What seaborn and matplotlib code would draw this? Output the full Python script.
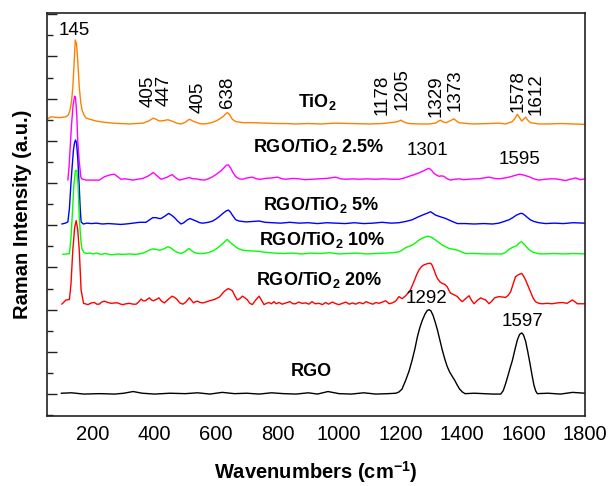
import matplotlib
matplotlib.use("Agg")
import matplotlib.pyplot as plt
from matplotlib.ticker import MultipleLocator, NullFormatter
import seaborn as sns
import pandas as pd

# ---- Raman spectra (offset-stacked, arbitrary units) ----
tio2_w = [50, 63, 75, 90, 100, 112, 120, 125, 130, 134, 138, 142, 146, 150, 155, 160, 164, 170, 177, 190,
          210, 235, 264, 290, 318, 340, 362, 378, 390, 396, 405, 416, 430, 443, 452, 459, 472, 486, 500, 508,
          515, 524, 535, 546, 557, 572, 589, 605, 622, 630, 637, 644, 653, 661, 669, 690, 718, 760, 800, 827,
          860, 900, 940, 989, 1040, 1098, 1140, 1179, 1192, 1201, 1208, 1217, 1228, 1260, 1293, 1314, 1322,
          1330, 1338, 1347, 1360, 1374, 1382, 1390, 1433, 1488, 1520, 1542, 1564, 1572, 1580, 1587, 1594,
          1600, 1607, 1615, 1623, 1650, 1683, 1720, 1760, 1800]
tio2_i = [6.51, 6.57, 6.56, 6.55, 6.56, 6.57, 6.62, 6.73, 6.95, 7.27, 7.80, 8.39, 8.30, 7.91, 7.27, 6.90, 6.73,
          6.62, 6.54, 6.51, 6.47, 6.44, 6.42, 6.41, 6.40, 6.41, 6.42, 6.46, 6.51, 6.54, 6.51, 6.47, 6.48, 6.50,
          6.48, 6.46, 6.42, 6.40, 6.44, 6.49, 6.51, 6.47, 6.44, 6.41, 6.40, 6.41, 6.44, 6.49, 6.57, 6.63, 6.67,
          6.62, 6.51, 6.47, 6.45, 6.43, 6.43, 6.42, 6.41, 6.41, 6.40, 6.41, 6.40, 6.42, 6.41, 6.40, 6.41, 6.44,
          6.46, 6.49, 6.46, 6.43, 6.41, 6.40, 6.40, 6.42, 6.46, 6.49, 6.45, 6.43, 6.47, 6.52, 6.47, 6.43, 6.40,
          6.41, 6.42, 6.40, 6.46, 6.53, 6.63, 6.55, 6.47, 6.51, 6.56, 6.48, 6.43, 6.40, 6.40, 6.41, 6.40, 6.39]

rgo25_w = [118, 122, 125, 130, 135, 140, 143, 147, 150, 155, 160, 163, 177, 200, 220, 237, 253, 269, 280, 291,
           302, 313, 329, 345, 362, 380, 396, 408, 421, 438, 457, 468, 481, 497, 513, 525, 535, 548, 562, 575,
           589, 603, 616, 627, 633, 640, 647, 655, 664, 675, 686, 700, 718, 732, 745, 760, 780, 800, 815, 827,
           850, 870, 890, 913, 935, 960, 989, 1005, 1022, 1045, 1065, 1090, 1119, 1145, 1173, 1195, 1212, 1228,
           1245, 1260, 1275, 1286, 1293, 1301, 1309, 1317, 1325, 1333, 1341, 1352, 1363, 1376, 1390, 1405, 1423,
           1440, 1455, 1470, 1488, 1505, 1520, 1540, 1558, 1572, 1587, 1600, 1618, 1634, 1650, 1670, 1690, 1704,
           1720, 1737, 1752, 1770, 1785, 1800]
rgo25_i = [5.07, 5.40, 5.78, 6.40, 6.85, 7.06, 7.02, 6.60, 6.00, 5.50, 5.15, 5.10, 5.07, 5.07, 5.07, 5.15, 5.19,
           5.21, 5.15, 5.09, 5.10, 5.09, 5.07, 5.09, 5.11, 5.17, 5.25, 5.17, 5.09, 5.13, 5.20, 5.13, 5.07, 5.10,
           5.13, 5.10, 5.10, 5.08, 5.07, 5.10, 5.15, 5.22, 5.29, 5.37, 5.42, 5.43, 5.36, 5.25, 5.15, 5.10, 5.09,
           5.12, 5.14, 5.10, 5.09, 5.11, 5.12, 5.14, 5.10, 5.09, 5.11, 5.10, 5.08, 5.09, 5.10, 5.11, 5.14, 5.10,
           5.09, 5.10, 5.09, 5.10, 5.09, 5.10, 5.09, 5.09, 5.12, 5.16, 5.20, 5.24, 5.29, 5.33, 5.35, 5.30, 5.23,
           5.19, 5.16, 5.17, 5.16, 5.10, 5.07, 5.09, 5.10, 5.08, 5.09, 5.10, 5.10, 5.12, 5.14, 5.11, 5.10, 5.12,
           5.15, 5.18, 5.21, 5.19, 5.15, 5.10, 5.07, 5.09, 5.10, 5.10, 5.08, 5.06, 5.09, 5.12, 5.08, 5.10]

rgo5_w = [98, 110, 118, 123, 128, 132, 136, 140, 143, 146, 150, 155, 158, 161, 168, 180, 195, 210, 230, 250, 270,
          290, 307, 330, 351, 372, 384, 394, 405, 415, 421, 432, 446, 455, 465, 475, 486, 495, 505, 515, 525, 535,
          547, 557, 575, 589, 600, 611, 622, 633, 640, 647, 653, 664, 675, 697, 720, 740, 760, 784, 810, 840, 870,
          900, 930, 960, 990, 1020, 1050, 1080, 1110, 1140, 1170, 1195, 1217, 1238, 1255, 1271, 1285, 1298, 1306,
          1314, 1330, 1347, 1365, 1385, 1410, 1440, 1470, 1500, 1520, 1537, 1553, 1565, 1577, 1590, 1596, 1604,
          1612, 1622, 1634, 1650, 1672, 1700, 1730, 1760, 1800]
rgo5_i = [4.03, 4.05, 4.08, 4.40, 5.00, 5.40, 5.78, 5.97, 6.02, 5.95, 5.60, 4.90, 4.40, 4.08, 4.03, 4.05, 4.04,
          4.05, 4.03, 4.04, 4.03, 4.02, 4.03, 4.05, 4.07, 4.07, 4.13, 4.18, 4.18, 4.16, 4.16, 4.21, 4.28, 4.24,
          4.18, 4.10, 4.03, 4.06, 4.12, 4.16, 4.13, 4.10, 4.06, 4.05, 4.07, 4.10, 4.15, 4.21, 4.28, 4.34, 4.36,
          4.31, 4.24, 4.13, 4.10, 4.08, 4.09, 4.10, 4.07, 4.06, 4.05, 4.07, 4.05, 4.06, 4.04, 4.06, 4.05, 4.04,
          4.06, 4.04, 4.05, 4.07, 4.05, 4.06, 4.09, 4.13, 4.19, 4.24, 4.28, 4.32, 4.28, 4.24, 4.20, 4.16, 4.10,
          4.04, 4.04, 4.03, 4.04, 4.03, 4.05, 4.09, 4.13, 4.18, 4.24, 4.28, 4.28, 4.24, 4.19, 4.13, 4.09, 4.06,
          4.04, 4.05, 4.04, 4.06, 4.05]

rgo10_w = [101, 115, 123, 128, 132, 137, 142, 147, 151, 155, 159, 163, 170, 177, 190, 200, 210, 225, 240, 252,
           264, 280, 295, 318, 335, 350, 362, 372, 382, 394, 405, 416, 430, 443, 451, 459, 470, 486, 500, 508, 513,
           520, 530, 545, 557, 575, 589, 603, 616, 625, 633, 637, 645, 653, 659, 667, 675, 686, 697, 720, 740, 760,
           790, 820, 850, 880, 910, 940, 970, 1000, 1030, 1060, 1090, 1120, 1150, 1175, 1195, 1205, 1217, 1228,
           1238, 1250, 1260, 1270, 1280, 1290, 1300, 1314, 1325, 1336, 1347, 1358, 1372, 1385, 1398, 1412, 1440,
           1477, 1505, 1531, 1542, 1553, 1565, 1577, 1586, 1594, 1603, 1612, 1620, 1629, 1645, 1661, 1700, 1730,
           1760, 1800]
rgo10_i = [3.31, 3.32, 3.33, 3.70, 4.20, 4.90, 5.29, 5.30, 4.95, 4.20, 3.75, 3.45, 3.36, 3.33, 3.34, 3.32, 3.34,
           3.31, 3.33, 3.31, 3.30, 3.32, 3.31, 3.32, 3.31, 3.32, 3.34, 3.37, 3.41, 3.44, 3.43, 3.41, 3.44, 3.49,
           3.47, 3.43, 3.37, 3.33, 3.38, 3.43, 3.45, 3.40, 3.35, 3.33, 3.33, 3.35, 3.39, 3.45, 3.53, 3.59, 3.65,
           3.66, 3.60, 3.55, 3.52, 3.47, 3.44, 3.41, 3.40, 3.39, 3.38, 3.36, 3.34, 3.33, 3.34, 3.32, 3.34, 3.33,
           3.35, 3.32, 3.33, 3.34, 3.32, 3.33, 3.34, 3.35, 3.37, 3.41, 3.47, 3.50, 3.53, 3.59, 3.65, 3.69, 3.72,
           3.74, 3.72, 3.65, 3.59, 3.53, 3.49, 3.45, 3.43, 3.41, 3.37, 3.33, 3.33, 3.32, 3.32, 3.32, 3.36, 3.43,
           3.48, 3.51, 3.58, 3.61, 3.54, 3.47, 3.41, 3.37, 3.33, 3.32, 3.33, 3.32, 3.33, 3.32]

rgo20_w = [98, 112, 123, 128, 134, 140, 145, 150, 155, 161, 169, 183, 195, 204, 212, 220, 228, 237, 248, 259, 270,
           280, 290, 297, 308, 318, 330, 340, 348, 356, 363, 370, 377, 383, 390, 396, 405, 414, 423, 432, 445, 457,
           465, 472, 482, 492, 502, 513, 520, 527, 533, 540, 548, 557, 567, 578, 594, 611, 625, 633, 640, 653, 661,
           669, 677, 686, 694, 702, 710, 718, 728, 740, 748, 756, 764, 772, 780, 788, 796, 805, 815, 827, 840, 850,
           859, 868, 880, 892, 902, 912, 922, 935, 946, 956, 966, 978, 990, 1000, 1011, 1022, 1033, 1044, 1054,
           1066, 1078, 1088, 1098, 1110, 1120, 1130, 1141, 1152, 1163, 1173, 1184, 1195, 1205, 1217, 1225, 1233,
           1244, 1252, 1260, 1268, 1276, 1287, 1298, 1303, 1309, 1315, 1320, 1328, 1336, 1344, 1352, 1358, 1363,
           1372, 1385, 1393, 1401, 1410, 1423, 1431, 1439, 1450, 1461, 1469, 1477, 1488, 1497, 1506, 1520, 1531,
           1542, 1550, 1558, 1566, 1574, 1584, 1594, 1600, 1607, 1615, 1623, 1631, 1639, 1650, 1661, 1677, 1693,
           1710, 1726, 1742, 1759, 1767, 1775, 1786, 1800]
rgo20_i = [2.13, 2.23, 2.24, 2.60, 3.41, 3.95, 4.11, 3.90, 3.41, 2.46, 2.15, 2.12, 2.16, 2.17, 2.13, 2.13, 2.18,
           2.20, 2.17, 2.15, 2.16, 2.16, 2.13, 2.12, 2.14, 2.15, 2.13, 2.13, 2.18, 2.25, 2.21, 2.21, 2.25, 2.28,
           2.23, 2.21, 2.24, 2.28, 2.20, 2.16, 2.25, 2.32, 2.29, 2.25, 2.16, 2.13, 2.18, 2.28, 2.22, 2.16, 2.19,
           2.20, 2.17, 2.16, 2.18, 2.21, 2.24, 2.30, 2.42, 2.47, 2.50, 2.45, 2.33, 2.23, 2.26, 2.32, 2.28, 2.23,
           2.15, 2.12, 2.22, 2.32, 2.22, 2.12, 2.15, 2.17, 2.14, 2.19, 2.14, 2.17, 2.13, 2.16, 2.19, 2.14, 2.14,
           2.18, 2.15, 2.16, 2.13, 2.19, 2.14, 2.15, 2.12, 2.17, 2.13, 2.18, 2.14, 2.12, 2.15, 2.18, 2.13, 2.16,
           2.13, 2.17, 2.14, 2.19, 2.16, 2.13, 2.17, 2.15, 2.18, 2.21, 2.14, 2.16, 2.20, 2.31, 2.26, 2.33, 2.40,
           2.48, 2.67, 2.82, 2.94, 3.02, 3.06, 3.09, 3.10, 3.05, 2.94, 2.82, 2.74, 2.66, 2.62, 2.60, 2.54, 2.45,
           2.39, 2.36, 2.31, 2.24, 2.19, 2.25, 2.33, 2.22, 2.14, 2.22, 2.28, 2.25, 2.23, 2.14, 2.20, 2.28, 2.31,
           2.30, 2.29, 2.34, 2.42, 2.60, 2.78, 2.83, 2.86, 2.80, 2.70, 2.56, 2.42, 2.28, 2.19, 2.15, 2.14, 2.15,
           2.14, 2.16, 2.17, 2.15, 2.23, 2.19, 2.14, 2.14, 2.14]

rgo_w = [96, 130, 170, 220, 270, 300, 330, 360, 400, 450, 500, 540, 580, 620, 660, 700, 740, 780, 820, 860, 900,
         930, 964, 1000, 1040, 1080, 1120, 1160, 1185, 1195, 1205, 1217, 1228, 1238, 1247, 1255, 1263, 1271, 1280,
         1287, 1293, 1299, 1306, 1313, 1320, 1328, 1336, 1344, 1352, 1360, 1369, 1376, 1384, 1392, 1401, 1410,
         1440, 1470, 1500, 1526, 1534, 1542, 1550, 1557, 1564, 1572, 1580, 1587, 1594, 1600, 1607, 1614, 1621,
         1628, 1634, 1640, 1645, 1680, 1720, 1760, 1800]
rgo_i = [0.02, 0.03, 0.00, 0.01, 0.00, 0.02, 0.06, 0.02, 0.00, 0.02, 0.01, 0.03, 0.00, 0.04, 0.01, 0.02, 0.00,
         0.03, 0.01, 0.00, 0.03, 0.00, 0.06, 0.01, 0.00, 0.03, 0.00, 0.01, 0.02, 0.05, 0.12, 0.33, 0.55, 0.81,
         1.08, 1.36, 1.58, 1.75, 1.90, 1.98, 2.00, 1.97, 1.86, 1.70, 1.52, 1.28, 1.04, 0.83, 0.65, 0.52, 0.41,
         0.33, 0.22, 0.12, 0.05, 0.01, 0.02, 0.01, 0.00, 0.00, 0.08, 0.25, 0.45, 0.63, 0.80, 1.05, 1.28, 1.41,
         1.45, 1.40, 1.25, 1.00, 0.73, 0.44, 0.21, 0.07, 0.01, 0.02, 0.00, 0.04, 0.02]

samples = ["TiO2", "RGO/TiO2 2.5%", "RGO/TiO2 5%", "RGO/TiO2 10%", "RGO/TiO2 20%", "RGO"]
colors = ["#FF8000", "#FF00FF", "#0000FF", "#00FF00", "#FF0000", "#000000"]
spectra = [(tio2_w, tio2_i), (rgo25_w, rgo25_i), (rgo5_w, rgo5_i),
           (rgo10_w, rgo10_i), (rgo20_w, rgo20_i), (rgo_w, rgo_i)]

# Peak annotations: (text, wavenumber, height)
vertical_marks = [("405", 379, 6.80), ("447", 431, 6.82), ("405", 541, 6.66), ("638", 638, 6.78),
                  ("1178", 1140, 6.61), ("1205", 1205, 6.73), ("1329", 1316, 6.56), ("1373", 1377, 6.71),
                  ("1578", 1583, 6.68), ("1612", 1641, 6.61)]
flat_marks = [("145", 138, 8.51), ("1301", 1286, 5.66), ("1595", 1586, 5.45),
              ("1292", 1284, 2.16), ("1597", 1597, 1.61)]
sample_labels = [(r"TiO$_\mathbf{2}$", 929, 6.80),
                 (r"RGO/TiO$_\mathbf{2}$ 2.5%", 935, 5.73),
                 (r"RGO/TiO$_\mathbf{2}$ 5%", 941, 4.36),
                 (r"RGO/TiO$_\mathbf{2}$ 10%", 945, 3.53),
                 (r"RGO/TiO$_\mathbf{2}$ 20%", 935, 2.58),
                 ("RGO", 909, 0.43)]

frames = []
for name, (w, i) in zip(samples, spectra):
    frames.append(pd.DataFrame({"wavenumber": w, "intensity": i, "sample": name}))
df = pd.concat(frames, ignore_index=True)

sns.set_style("white")
plt.rcParams["font.family"] = ["Liberation Sans", "DejaVu Sans"]
plt.rcParams["mathtext.fontset"] = "custom"
plt.rcParams["mathtext.rm"] = "Liberation Sans"
plt.rcParams["mathtext.bf"] = "Liberation Sans:bold"
plt.rcParams["text.color"] = "black"
plt.rcParams["axes.labelcolor"] = "black"
plt.rcParams["xtick.color"] = "black"
plt.rcParams["ytick.color"] = "black"

fig = plt.figure(figsize=(6.11, 4.86), dpi=100)
ax = fig.add_axes([0.0769, 0.144, 0.8805, 0.8293])

sns.lineplot(data=df, x="wavenumber", y="intensity", hue="sample", hue_order=samples,
             palette=dict(zip(samples, colors)), estimator=None, sort=False,
             linewidth=1.0, legend=False, ax=ax)

ax.set_xlim(50, 1800)
ax.set_ylim(-0.52, 9.03)
ax.xaxis.set_major_locator(MultipleLocator(200))
ax.xaxis.set_minor_locator(MultipleLocator(100))
ax.yaxis.set_major_locator(MultipleLocator(1))
ax.yaxis.set_minor_locator(MultipleLocator(0.5))
ax.yaxis.set_major_formatter(NullFormatter())
ax.set_xticks(range(200, 1801, 200))
ax.set_xticklabels([str(v) for v in range(200, 1801, 200)])

ax.tick_params(axis="both", which="both", direction="in", top=False, right=False,
               color="#222222", width=1.0)
ax.tick_params(axis="both", which="major", length=7)
ax.tick_params(axis="both", which="minor", length=4)
ax.tick_params(axis="x", which="major", labelsize=14.5, pad=6.5, labelcolor="black")
ax.tick_params(axis="y", left=True, which="both")

for sp in ax.spines.values():
    sp.set_color("#222222")
    sp.set_linewidth(1.2)

ax.set_xlabel(r"Wavenumbers (cm$^{\mathbf{-1}}$)", fontsize=14.5, fontweight="bold",
              labelpad=11, color="black")
ax.set_ylabel("Raman Intensity (a.u.)", fontsize=14.5, fontweight="bold", labelpad=7, color="black")

for txt, w, h in vertical_marks:
    ax.text(w, h, txt, rotation=90, ha="center", va="bottom", fontsize=13.5, color="black")
for txt, w, h in flat_marks:
    ax.text(w, h, txt, ha="center", va="baseline", fontsize=13.5, color="black")
for txt, w, h in sample_labels:
    ax.text(w, h, txt, ha="center", va="baseline", fontsize=13, fontweight="bold", color="black")

fig.savefig("out.png", dpi=100)
